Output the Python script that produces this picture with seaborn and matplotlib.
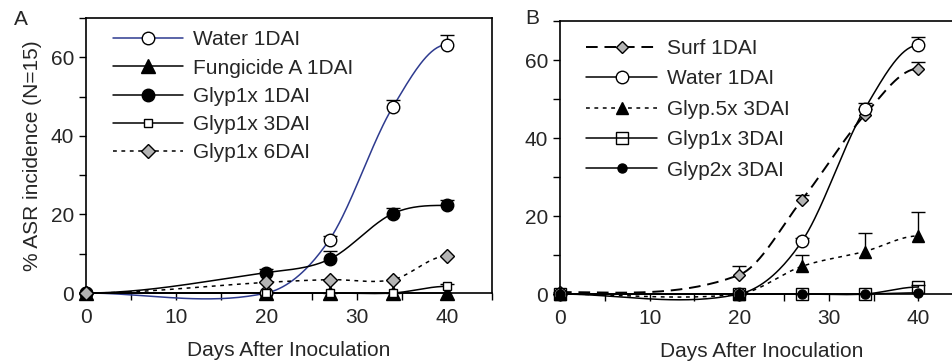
import numpy as np
import pandas as pd
import matplotlib
matplotlib.use("Agg")
import matplotlib.pyplot as plt
from matplotlib.lines import Line2D
from matplotlib.ticker import MultipleLocator
import seaborn as sns

sns.set_style("ticks")
plt.rcParams["font.family"] = ["Liberation Sans", "DejaVu Sans"]
FS = 15

# days after inoculation (sampling dates)
days = [0, 20, 27, 34, 40]

# panel A
water_a = [0, 0, 13.6, 47.3, 63.2]
water_a_err = [0, 0, 1.0, 1.8, 2.5]
fung_a = [0, 0, 0, 0, 0]
fung_a_err = [0, 0, 0, 0, 0]
glyp1x_1dai = [0, 5.2, 8.6, 20.2, 22.3]
glyp1x_1dai_err = [0, 0.8, 2.2, 1.5, 1.3]
glyp1x_3dai_a = [0, 0, 0, 0, 1.7]
glyp1x_3dai_a_err = [0, 0, 0, 0, 0.5]
glyp1x_6dai = [0, 2.7, 3.4, 3.4, 9.4]
glyp1x_6dai_err = [0, 0, 0, 0, 0]

# panel B
surf_b = [0.5, 4.9, 24.1, 45.9, 57.8]
surf_b_err = [0, 2.2, 1.3, 1.5, 1.8]
water_b = [0, 0, 13.5, 47.4, 63.8]
water_b_err = [0, 0, 0.8, 1.7, 2.2]
glyp05_3dai = [0, 0, 7.1, 10.9, 14.9]
glyp05_3dai_err = [0, 0, 3.0, 4.7, 6.1]
glyp1x_3dai_b = [0, 0, 0, 0, 1.8]
glyp1x_3dai_b_err = [0, 0, 0, 0, 0.5]
glyp2x_3dai = [0, 0, 0, 0, 0.3]
glyp2x_3dai_err = [0, 0, 0, 0, 0]


def smooth(x, y, n=40):
    # catmull-rom style hermite curve through the points (drawing only)
    x = np.asarray(x, float)
    y = np.asarray(y, float)
    m = np.zeros_like(y)
    m[1:-1] = (y[2:] - y[:-2]) / (x[2:] - x[:-2])
    xs, ys = [], []
    for i in range(len(x) - 1):
        h = x[i + 1] - x[i]
        t = np.linspace(0, 1, n)
        h00 = 2 * t**3 - 3 * t**2 + 1
        h10 = t**3 - 2 * t**2 + t
        h01 = -2 * t**3 + 3 * t**2
        h11 = t**3 - t**2
        xs.append(x[i] + t * h)
        ys.append(h00 * y[i] + h10 * h * m[i] + h01 * y[i + 1] + h11 * h * m[i + 1])
    return np.concatenate(xs), np.concatenate(ys)


def draw(ax, y, err, label, color, ls, marker, ms, mfc, lw=1.1):
    sx, sy = smooth(days, y)
    d = pd.DataFrame({"x": sx, "y": sy})
    sns.lineplot(data=d, x="x", y="y", ax=ax, color=color, linestyle=ls,
                 linewidth=lw, sort=False, estimator=None, zorder=2)
    ax.lines[-1].set_clip_on(False)
    if any(e > 0 for e in err):
        eb = ax.errorbar(days, y, yerr=[np.zeros(len(err)), err], fmt="none",
                         ecolor="black", elinewidth=1.0, capsize=5, capthick=1.0,
                         zorder=3, clip_on=False)
        eb[1][0].set_visible(False)
    ax.plot(days, y, linestyle="none", marker=marker, markersize=ms,
            markerfacecolor=mfc, markeredgecolor="black", markeredgewidth=1.0,
            zorder=4, clip_on=False)
    return Line2D([], [], color=color, linestyle=ls, linewidth=lw, marker=marker,
                  markersize=ms, markerfacecolor=mfc, markeredgecolor="black",
                  markeredgewidth=1.0, label=label)


fig = plt.figure(figsize=(9.53, 3.63), dpi=100)
ax_a = fig.add_axes([0.0902, 0.1928, 0.426, 0.7576])
ax_b = fig.add_axes([0.5876, 0.190, 0.423, 0.752])

navy = "#2e3b8f"
gray = "#b4b4b4"

h_a = [
    draw(ax_a, water_a, water_a_err, "Water 1DAI", navy, "-", "o", 9, "white"),
    draw(ax_a, fung_a, fung_a_err, "Fungicide A 1DAI", "black", "-", "^", 10, "black"),
    draw(ax_a, glyp1x_1dai, glyp1x_1dai_err, "Glyp1x 1DAI", "black", "-", "o", 9, "black"),
    draw(ax_a, glyp1x_3dai_a, glyp1x_3dai_a_err, "Glyp1x 3DAI", "black", "-", "s", 6, "white"),
    draw(ax_a, glyp1x_6dai, glyp1x_6dai_err, "Glyp1x 6DAI", "black", (0, (2.5, 3)), "D", 7, gray),
]

h_b = [
    draw(ax_b, surf_b, surf_b_err, "Surf 1DAI", "black", (0, (6, 3.5)), "D", 6, gray, lw=1.4),
    draw(ax_b, water_b, water_b_err, "Water 1DAI", "black", "-", "o", 9, "white"),
    draw(ax_b, glyp05_3dai, glyp05_3dai_err, "Glyp.5x 3DAI", "black", (0, (2.5, 3)), "^", 8, "black"),
    draw(ax_b, glyp1x_3dai_b, glyp1x_3dai_b_err, "Glyp1x 3DAI", "black", "-", "s", 8, "none"),
    draw(ax_b, glyp2x_3dai, glyp2x_3dai_err, "Glyp2x 3DAI", "black", "-", "o", 6.5, "black"),
]

for ax, handles, top, sp in ((ax_a, h_a, 0.985, 0.44), (ax_b, h_b, 0.965, 0.55)):
    ax.set_xlim(0, 45)
    ax.set_ylim(0, 70)
    ax.xaxis.set_major_locator(MultipleLocator(10))
    ax.xaxis.set_minor_locator(MultipleLocator(5))
    ax.yaxis.set_major_locator(MultipleLocator(20))
    ax.yaxis.set_minor_locator(MultipleLocator(10))
    ax.set_yticks([0, 20, 40, 60])
    ax.tick_params(which="both", direction="out", length=5, width=1.0,
                   color="black", labelsize=FS)
    ax.tick_params(axis="x", pad=6)
    for s in ax.spines.values():
        s.set_color("black")
        s.set_linewidth(1.2)
    ax.set_xlabel("Days After Inoculation", fontsize=FS, labelpad=10)
    ax.set_ylabel("")
    ax.legend(handles=handles, loc="upper left", frameon=False, fontsize=FS,
              handlelength=3.4, handletextpad=0.45, labelspacing=sp,
              borderaxespad=0.0, bbox_to_anchor=(0.045, top))

ax_a.set_ylabel("% ASR incidence (N=15)", fontsize=FS, labelpad=6)
fig.text(0.022, 0.945, "A", fontsize=FS, ha="center", va="center")
fig.text(0.558, 0.95, "B", fontsize=FS, ha="center", va="center")

fig.savefig("out.png", dpi=100)
